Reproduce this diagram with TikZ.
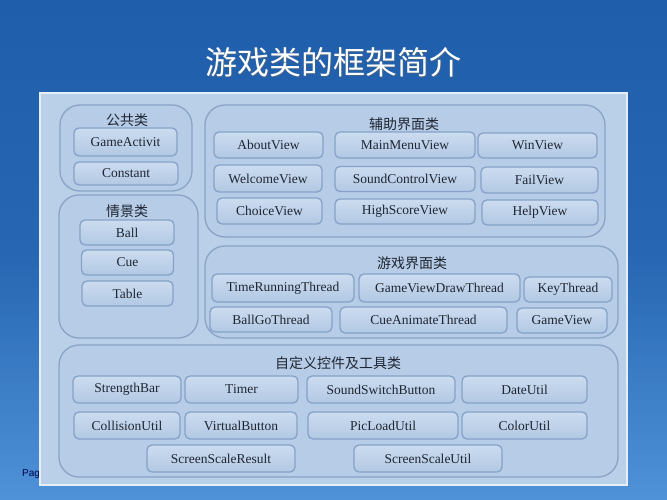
\documentclass[tikz,border=0pt]{standalone}
\usepackage{fontspec}
\setmainfont{Liberation Serif}
\newfontfamily\cjk{Noto Sans CJK SC}
\newfontfamily\pagefont{Liberation Sans}
\definecolor{bgtop}{HTML}{1F5EAB}
\definecolor{bgbot}{HTML}{4F92D8}
\definecolor{panelfill}{HTML}{BACFE8}
\definecolor{panelline}{HTML}{E6EFF8}
\definecolor{grpline}{HTML}{8AA4C6}
\definecolor{grpfill}{HTML}{B7CCE6}
\definecolor{bxline}{HTML}{86A2C8}
\definecolor{bxtop}{HTML}{CCDCF0}
\definecolor{bxbot}{HTML}{B2C8E3}
\definecolor{txt}{HTML}{1F2633}
\tikzset{
  grp/.style={draw=grpline, line width=1.3pt, rounded corners=20pt, fill=grpfill, inner sep=0pt},
  bx/.style={draw=bxline, line width=1.3pt, rounded corners=5pt, top color=bxtop, bottom color=bxbot,
    font=\fontsize{13.5}{16}\selectfont, text=txt, inner sep=0pt},
  gtitle/.style={font=\cjk\fontsize{14}{16}\selectfont, text=txt, inner sep=0pt},
}
\newcommand{\bxat}[6]{\node[bx, minimum width=#4pt, minimum height=#5pt] (#1) at (#2,#3) {#6};}
\newcommand{\grpat}[5]{\node[grp, minimum width=#4pt, minimum height=#5pt] (#1) at (#2,#3) {};}
\begin{document}
\begin{tikzpicture}[x=1pt,y=-1pt]
\useasboundingbox (0,0) rectangle (667,500);
% background
\shade[top color=bgtop, bottom color=bgbot, middle color=bgtop!85!bgbot] (0,0) rectangle (667,500);
% title
\node[font=\cjk\fontsize{32}{36}\selectfont, text=black!60, opacity=0.5] at (334.5,63.5) {游戏类的框架简介};
\node[font=\cjk\fontsize{32}{36}\selectfont, text=white] (title) at (333,62) {游戏类的框架简介};
% page text (mostly hidden by panel)
\node[font=\pagefont\fontsize{10}{12}\selectfont, text=black!70!blue, anchor=base west, inner sep=0pt] (page) at (22,476) {Page};
% panel
\node[draw=panelline, line width=2pt, fill=panelfill, minimum width=587pt, minimum height=392pt, inner sep=0pt] (panel) at (333.5,289) {};
% groups
\grpat{g1}{126}{148}{132}{86}
\grpat{g2}{128.5}{266.5}{139}{143}
\grpat{g3}{405}{171}{400}{132}
\grpat{g4}{411.5}{292}{413}{92}
\grpat{g5}{338.5}{411}{559}{132}
% group titles
\node[gtitle] (t1) at (127,120) {公共类};
\node[gtitle] (t2) at (127,211) {情景类};
\node[gtitle] (t3) at (404,124) {辅助界面类};
\node[gtitle] (t4) at (412,263) {游戏界面类};
\node[gtitle] (t5) at (338,363) {自定义控件及工具类};
% 公共类
\bxat{b11}{125.5}{142}{103}{28}{GameActivit}
\bxat{b12}{126}{173.5}{104}{23}{Constant}
% 情景类
\bxat{b21}{127}{232.5}{94}{25}{Ball}
\bxat{b22}{127.5}{262.5}{92}{25}{Cue}
\bxat{b23}{127.5}{293.5}{91}{25}{Table}
% 辅助界面类
\bxat{b31}{268.5}{145}{109}{26}{AboutView}
\bxat{b32}{405}{145}{140}{26}{MainMenuView}
\bxat{b33}{537.5}{145.5}{119}{25}{WinView}
\bxat{b34}{268}{178.5}{108}{27}{WelcomeView}
\bxat{b35}{405}{179}{140}{25}{SoundControlView}
\bxat{b36}{539.5}{180}{117}{26}{FailView}
\bxat{b37}{269.5}{211}{105}{26}{ChoiceView}
\bxat{b38}{405}{211.5}{140}{25}{HighScoreView}
\bxat{b39}{540}{212.5}{116}{25}{HelpView}
% 游戏界面类
\bxat{b41}{283}{288}{142}{28}{TimeRunningThread}
\bxat{b42}{439.5}{288}{161}{28}{GameViewDrawThread}
\bxat{b43}{568}{289.5}{88}{25}{KeyThread}
\bxat{b44}{271}{319.5}{122}{25}{BallGoThread}
\bxat{b45}{423.5}{320}{167}{26}{CueAnimateThread}
\bxat{b46}{562}{320.5}{90}{25}{GameView}
% 自定义控件及工具类
\bxat{b51}{127}{389.5}{108}{27}{StrengthBar}
\bxat{b52}{241.5}{389.5}{113}{27}{Timer}
\bxat{b53}{381}{389.5}{148}{27}{SoundSwitchButton}
\bxat{b54}{524.5}{389.5}{125}{27}{DateUtil}
\bxat{b55}{127}{425.5}{106}{27}{CollisionUtil}
\bxat{b56}{241}{425.5}{112}{27}{VirtualButton}
\bxat{b57}{383}{425.5}{150}{27}{PicLoadUtil}
\bxat{b58}{524.5}{425.5}{125}{27}{ColorUtil}
\bxat{b59}{221}{458.5}{148}{27}{ScreenScaleResult}
\bxat{b60}{428}{458.5}{148}{27}{ScreenScaleUtil}
\end{tikzpicture}
\end{document}
